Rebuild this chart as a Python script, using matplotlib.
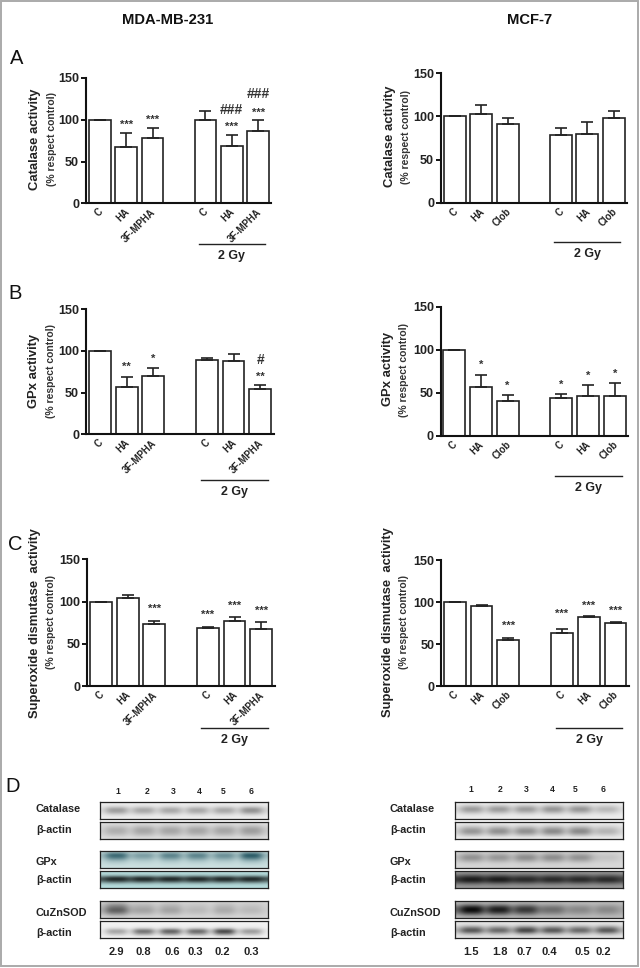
import numpy as np
import matplotlib
matplotlib.use('Agg')
import matplotlib.pyplot as plt
from matplotlib.patches import Rectangle
from matplotlib.transforms import ScaledTranslation

plt.rcParams['font.family'] = ['Liberation Sans', 'DejaVu Sans']

W, H = 640, 968

# bar slots, the gap between the two groups is one empty slot
positions = [0, 1, 2, 4, 5, 6]
labels_231 = ['C', 'HA', '3F-MPHA', 'C', 'HA', '3F-MPHA']
labels_mcf = ['C', 'HA', 'Clob', 'C', 'HA', 'Clob']

# means and top of the error bar
cat_231 = [100, 67, 78, 100, 69, 87]
cat_231_top = [100, 84, 90, 110, 82, 100]
cat_mcf = [100, 103, 91, 78, 80, 98]
cat_mcf_top = [100, 113, 98, 87, 93, 106]
gpx_231 = [100, 57, 70, 89, 88, 54]
gpx_231_top = [100, 69, 79, 92, 96, 59]
gpx_mcf = [100, 57, 40, 44, 46, 46]
gpx_mcf_top = [100, 71, 47, 48, 59, 61]
sod_231 = [100, 104, 73, 69, 77, 68]
sod_231_top = [100, 108, 77, 70, 82, 76]
sod_mcf = [100, 96, 55, 63, 83, 75]
sod_mcf_top = [100, 96.5, 58, 68, 83.2, 77]

# significance marks: (slot, height, text)
marks_cat_231 = [(1, 97, '***'), (2, 102, '***'), (5, 93.5, '***'), (5, 112, '###'),
                 (6, 111, '***'), (6, 130.5, '###')]
marks_cat_mcf = []
marks_gpx_231 = [(1, 84, '**'), (2, 93, '*'), (6, 71, '**'), (6, 89, '#')]
marks_gpx_mcf = [(1, 85, '*'), (2, 60, '*'), (4, 61, '*'), (5, 72, '*'), (6, 74, '*')]
marks_sod_231 = [(2, 94, '***'), (4, 87, '***'), (5, 98, '***'), (6, 91, '***')]
marks_sod_mcf = [(2, 75, '***'), (4, 88.5, '***'), (5, 98, '***'), (6, 92, '***')]

# western blot lanes, darkness of the band in each lane (0-1)
blot_names = ['Catalase', 'β-actin', 'GPx', 'β-actin', 'CuZnSOD', 'β-actin']
lanes_231 = [[.7, .6, .6, .6, .6, .8],
             [.6, .7, .7, .7, .7, .8],
             [.9, .5, .7, .7, .6, 1],
             [1, 1, 1, 1, 1, 1],
             [.8, .35, .35, .2, .3, .2],
             [.45, .75, .85, .8, 1, .5]]
lanes_mcf = [[.7, .7, .7, .75, .75, .45],
             [.7, .75, .75, .8, .8, .45],
             [.7, .65, .75, .75, .7, .2],
             [1, 1, .9, .9, .9, .9],
             [1, .9, .75, .45, .3, .3],
             [.8, .7, .9, .8, .7, .8]]
# how much of the band carries on between two lanes
gaps_231 = [.25, .35, .3, .75, .35, .1]
gaps_mcf = [.3, .35, .4, .8, .5, .35]
lane_numbers = ['1', '2', '3', '4', '5', '6']
ratio_231 = ['2.9', '0.8', '0.6', '0.3', '0.2', '0.3']
ratio_mcf = ['1.5', '1.8', '0.7', '0.4', '0.5', '0.2']


fig = plt.figure(figsize=(W / 100, H / 100), dpi=100)


def fx(px):
    return px / W


def fy(py):
    return 1 - py / H


def put(x, y, s, **kw):
    kw.setdefault('ha', 'center')
    kw.setdefault('va', 'center')
    fig.text(fx(x), fy(y), s, **kw)


def bar_panel(x0, x1, y0, y150, first, step, values, tops, labels, marks, ylabel,
              ylabel_x, sub_x, ylabel_y, sub_y, gy_line, gy_y):
    ax = fig.add_axes([fx(x0), fy(y0), (x1 - x0) / W, (y0 - y150) / H])
    ax.set_xlim((x0 - first) / step, (x1 - first) / step)
    ax.set_ylim(0, 150)
    yerr = [np.zeros(6), np.array(tops) - np.array(values)]
    ax.bar(positions, values, width=0.82, color='white', edgecolor='#222222', linewidth=1.2,
           yerr=yerr, error_kw=dict(ecolor='#222222', elinewidth=1.2, capsize=4.2, capthick=1.2))
    for s in ['top', 'right']:
        ax.spines[s].set_visible(False)
    for s in ['left', 'bottom']:
        ax.spines[s].set_linewidth(1.5)
        ax.spines[s].set_color('#111111')
    ax.set_yticks([0, 50, 100, 150])
    ax.tick_params(axis='y', length=3.5, width=1.3, pad=1.5, labelsize=9, labelcolor='#222222')
    ax.tick_params(axis='x', length=0, pad=2.5)
    ax.set_xticks(positions)
    ax.set_xticklabels(labels, rotation=45, ha='right', rotation_mode='anchor',
                       fontsize=6.9, fontweight='bold', color='#222222')
    shift = ScaledTranslation(-1.5 / 72, 0, fig.dpi_scale_trans)
    for t in ax.get_xticklabels():
        t.set_transform(t.get_transform() + shift)
    for t in ax.get_yticklabels():
        t.set_fontweight('bold')
    for p, h, s in marks:
        size = 8 if s.startswith('*') else 10
        off = -1.5 if s.startswith('*') else 0
        ax.annotate(s, (p, h), xytext=(0, off), textcoords='offset points', ha='center',
                    va='center', fontsize=size, fontweight='bold', color='#333333')
    put(ylabel_x, ylabel_y, ylabel, rotation=90, fontsize=9.4, fontweight='bold', color='#222222')
    put(sub_x, sub_y, '(% respect control)', rotation=90, fontsize=7.5, fontweight='bold',
        color='#333333')
    fig.add_artist(plt.Line2D([fx(gy_line[0]), fx(gy_line[1])], [fy(gy_line[2])] * 2,
                              color='#222222', lw=1.0))
    put((gy_line[0] + gy_line[1]) / 2, gy_y, '2 Gy', fontsize=9, fontweight='bold', color='#222222')


bar_panel(86, 271, 203.3, 78, 99.8, 26.4, cat_231, cat_231_top, labels_231, marks_cat_231,
          'Catalase activity', 35, 52, 139, 139, (199, 265, 244), 256)
bar_panel(441, 627, 202.7, 73.3, 454.7, 26.5, cat_mcf, cat_mcf_top, labels_mcf, marks_cat_mcf,
          'Catalase activity', 390, 406, 136, 137, (554, 620, 242), 254)
bar_panel(86, 274, 434.3, 309.3, 100, 26.7, gpx_231, gpx_231_top, labels_231, marks_gpx_231,
          'GPx activity', 34, 51, 371, 371, (201, 268, 480), 492)
bar_panel(440.7, 628, 435.7, 306.7, 454, 26.8, gpx_mcf, gpx_mcf_top, labels_mcf, marks_gpx_mcf,
          'GPx activity', 388, 404, 369, 370, (555, 622, 475.7), 488)
bar_panel(87.3, 275, 686.3, 559.3, 101, 26.7, sod_231, sod_231_top, labels_231, marks_sod_231,
          'Superoxide dismutase  activity', 35, 51, 623, 622, (201, 268, 728), 740)
bar_panel(441.3, 629, 686.3, 560.3, 454.7, 26.8, sod_mcf, sod_mcf_top, labels_mcf, marks_sod_mcf,
          'Superoxide dismutase  activity', 388, 404, 622, 622, (556, 622, 727.7), 740)


def blot(x0, x1, y0, y1, lanes, gap, profile, bg, ink):
    ax = fig.add_axes([fx(x0), fy(y1), (x1 - x0) / W, (y1 - y0) / H])
    row = [gap * lanes[0]]
    for d in lanes:
        row += [d, d, d, gap * d]
    img = np.outer(profile, row)[:, :, None]
    rgb = np.array(bg) * (1 - img) + np.array(ink) * img
    ax.imshow(np.clip(rgb, 0, 1), aspect='auto', interpolation='bicubic')
    ax.set_xticks([])
    ax.set_yticks([])
    for s in ax.spines.values():
        s.set_linewidth(0.9)
        s.set_color('#222222')


profiles_231 = [[0, .15, 1, .9, .2, 0], [.1, .5, 1, 1, .6, .1], [.1, 1, .8, .3, .1, 0],
                [0, .1, 1, .8, .1, 0], [.1, .5, .8, 1, .6, .1], [0, 0, .1, .9, .5, 0]]
profiles_mcf = [[0, .5, 1, .6, .1, 0], [0, .3, .8, 1, .5, 0], [.1, .6, 1, .6, .1, .05],
                [.1, .5, 1, 1, .4, .1], [0, .3, .9, 1, .6, .1], [0, .1, .7, 1, .3, 0]]
bgs_231 = [(.93,) * 3, (.88,) * 3, (.8, .88, .88), (.72, .87, .87), (.85,) * 3, (.95,) * 3]
inks_231 = [(.45,) * 3, (.55,) * 3, (.1, .3, .35), (.05, .07, .07), (.2,) * 3, (.05,) * 3]
bgs_mcf = [(.93,) * 3, (.92,) * 3, (.85,) * 3, (.65,) * 3, (.75,) * 3, (.9,) * 3]
inks_mcf = [(.4,) * 3, (.4,) * 3, (.4,) * 3, (.1,) * 3, (0,) * 3, (.1,) * 3]

strip_y = [(802.3, 819.3), (822.3, 839.3), (851, 868.3), (871, 888), (901, 918.3), (921.3, 938.3)]
name_y = [809, 830, 862, 880, 913, 933]
for i in range(6):
    blot(100, 268, strip_y[i][0], strip_y[i][1], lanes_231[i], gaps_231[i], profiles_231[i],
         bgs_231[i], inks_231[i])
    blot(454.7, 622.7, strip_y[i][0], strip_y[i][1], lanes_mcf[i], gaps_mcf[i], profiles_mcf[i],
         bgs_mcf[i], inks_mcf[i])
    put(36, name_y[i], blot_names[i], ha='left', fontsize=7.8, fontweight='bold', color='#222222')
    put(390, name_y[i], blot_names[i], ha='left', fontsize=7.8, fontweight='bold', color='#222222')

num_x_231 = [118, 147, 173, 199, 223, 251]
num_x_mcf = [471, 500, 526, 552, 575, 603]
val_x_231 = [116, 143, 172, 195, 222, 251]
val_x_mcf = [471, 500, 524, 549, 582, 603]
for i in range(6):
    put(num_x_231[i], 791, lane_numbers[i], fontsize=6.2, fontweight='bold', color='#222222')
    put(num_x_mcf[i], 790, lane_numbers[i], fontsize=6.2, fontweight='bold', color='#222222')
    put(val_x_231[i], 952, ratio_231[i], fontsize=8, fontweight='bold', color='#222222')
    put(val_x_mcf[i], 952, ratio_mcf[i], fontsize=8, fontweight='bold', color='#222222')

# column titles and panel letters
put(168, 20, 'MDA-MB-231', fontsize=10.6, fontweight='bold', color='#111111')
put(530, 20, 'MCF-7', fontsize=10.6, fontweight='bold', color='#111111')
put(17, 59, 'A', fontsize=14.5, color='#111111')
put(15, 294, 'B', fontsize=14.5, color='#111111')
put(15, 544, 'C', fontsize=14.5, color='#111111')
put(13, 787, 'D', fontsize=14.5, color='#111111')

# grey frame round the figure
fig.add_artist(Rectangle((0.001, 0.002), 0.996, 0.997, transform=fig.transFigure, fill=False,
                         edgecolor='#aaaaaa', linewidth=1.4))

fig.savefig('out.png', dpi=100)
